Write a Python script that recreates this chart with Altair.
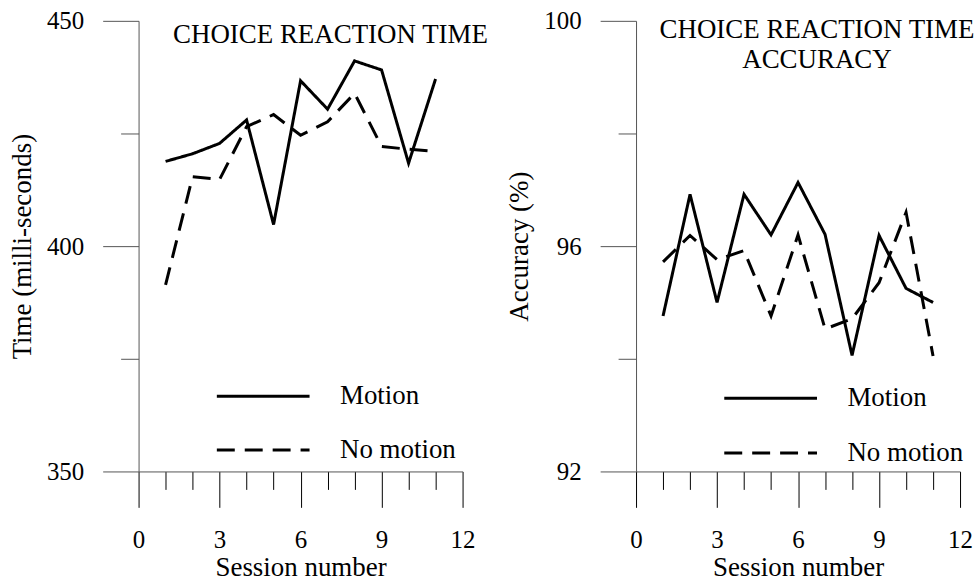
import altair as alt
import pandas as pd

# Session numbers and per-session means for the two conditions
sessions = list(range(1, 12))
conditions = ["Motion", "No motion"]

rt_motion = [418.8, 420.5, 422.8, 428.0, 404.8, 436.7, 430.4, 441.1, 439.1, 418.4, 437.1]
rt_no_motion = [391.4, 415.4, 414.8, 426.5, 429.2, 424.6, 427.6, 433.9, 422.1, 421.5, 421.0]

acc_motion = [94.76, 96.92, 95.0, 96.92, 96.2, 97.13, 96.21, 94.06, 96.19, 95.25, 95.0]
acc_no_motion = [95.72, 96.19, 95.76, 95.92, 94.76, 96.2, 94.53, 94.71, 95.35, 96.6, 94.05]

x_ticks = list(range(0, 13))
rt_ticks = [350, 375, 400, 425, 450]
acc_ticks = [92, 94, 96, 98, 100]

FONT = "Liberation Serif"
PLOT_W, PLOT_H = 325, 452


def long_table(a, b):
    return pd.DataFrame({
        "session": sessions * 2,
        "value": a + b,
        "condition": [conditions[0]] * len(sessions) + [conditions[1]] * len(sessions),
    })


def x_axis():
    return alt.Axis(
        values=x_ticks,
        labelExpr="datum.value % 3 === 0 ? datum.label : ''",
        tickSize={"condition": {"test": "datum.value % 3 !== 0", "value": 18}, "value": 36},
        labelPadding=20,
        labelFlush=False,
        labelOverlap=False,
        titlePadding=2,
        domainColor="#555555",
        tickColor="black",
    )


def y_axis(values, major_step):
    return alt.Axis(
        values=values,
        labelExpr=f"datum.value % {major_step} === 0 ? datum.label : ''",
        tickSize={"condition": {"test": f"datum.value % {major_step} !== 0", "value": 18}, "value": 36},
        labelPadding=19,
        labelFlush=False,
        labelOverlap=False,
        titlePadding=10,
        domainColor="#555555",
        tickColor="#555555",
    )


def panel(df, y_domain, y_values, major_step, y_title, title_lines, title_dx,
          title_offset, legend_x, legend_y, row_gap, label_offset):
    return alt.Chart(df).mark_line(strokeWidth=3, color="black").encode(
        x=alt.X("session:Q", title="Session number",
                scale=alt.Scale(domain=[0, 12], nice=False, zero=False),
                axis=x_axis()),
        y=alt.Y("value:Q", title=y_title,
                scale=alt.Scale(domain=y_domain, nice=False, zero=False),
                axis=y_axis(y_values, major_step)),
        strokeDash=alt.StrokeDash(
            "condition:N",
            scale=alt.Scale(domain=conditions, range=[[1, 0], [18, 10]]),
            legend=alt.Legend(
                title=None, orient="none", legendX=legend_x, legendY=legend_y,
                symbolType="stroke", symbolSize=8649, symbolStrokeWidth=3,
                symbolStrokeColor="black", clipHeight=27, rowPadding=row_gap,
                labelFont=FONT, labelFontSize=27, labelColor="black",
                labelOffset=label_offset, padding=0, labelLimit=0,
            ),
        ),
        detail="condition:N",
    ).properties(
        width=PLOT_W,
        height=PLOT_H,
        title=alt.TitleParams(
            text=title_lines, orient="top", anchor="middle", frame="group",
            offset=title_offset, dx=title_dx, baseline="top", lineHeight=30,
            font=FONT, fontSize=27, fontWeight="normal", color="black",
        ),
    )


left = panel(long_table(rt_motion, rt_no_motion), [350, 450], rt_ticks, 50,
             "Time (milli-seconds)", ["CHOICE REACTION TIME"], 30, -40,
             77, 363, 26, 29)
right = panel(long_table(acc_motion, acc_no_motion), [92, 100], acc_ticks, 4,
              "Accuracy (%)", ["CHOICE REACTION TIME", "ACCURACY"], 19, -65,
              87, 365, 27, 29)

chart = alt.hconcat(left, right, spacing=17).resolve_scale(
    strokeDash="independent"
).resolve_legend(
    strokeDash="independent"
).properties(
    padding={"left": 8, "top": 8, "right": 0, "bottom": 0},
    background="white",
).configure_view(
    stroke=None
).configure_axis(
    grid=False,
    labelFont=FONT, labelFontSize=25, labelColor="black",
    titleFont=FONT, titleFontSize=27, titleFontWeight="normal", titleColor="black",
    domainWidth=1, tickWidth=1,
)

chart.save("out.html", embed_options={"renderer": "svg", "actions": False})
